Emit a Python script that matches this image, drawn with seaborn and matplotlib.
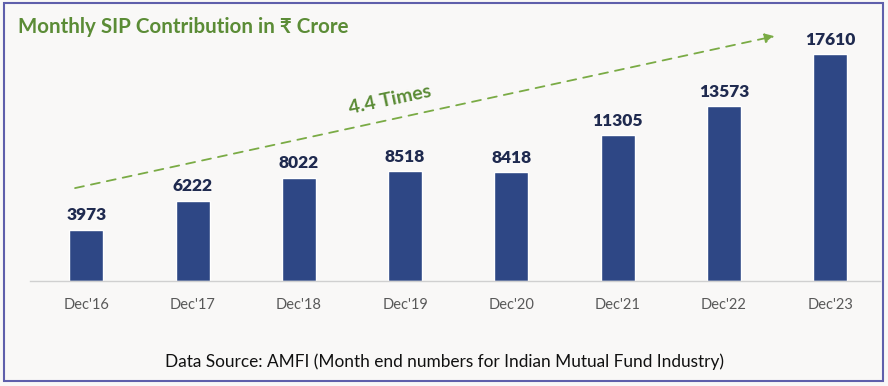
import pandas as pd
import seaborn as sns
import matplotlib.pyplot as plt
from matplotlib.patches import Rectangle

months = ["Dec'16", "Dec'17", "Dec'18", "Dec'19", "Dec'20", "Dec'21", "Dec'22", "Dec'23"]
sip_crore = [3973, 6222, 8022, 8518, 8418, 11305, 13573, 17610]

bar_color = "#2e4785"
label_color = "#1f2a4f"
green = "#5b8c36"
bg = "#f9f8f7"

df = pd.DataFrame({"month": months, "sip": sip_crore})

sns.set_theme(style="white")
plt.rcParams["font.family"] = ["Lato", "DejaVu Sans"]

fig = plt.figure(figsize=(8.88, 3.86), dpi=100, facecolor=bg)
ax = fig.add_axes([30 / 888, (386 - 281) / 386, 850 / 888, 261 / 386])
ax.set_facecolor(bg)

sns.barplot(data=df, x="month", y="sip", color=bar_color, width=0.32,
            saturation=1, ax=ax)

# value labels on top of bars
for i, v in enumerate(sip_crore):
    ax.text(i, v + 500, str(v), ha="center", va="bottom", fontsize=12.5,
            fontweight="heavy", color=label_color)

ax.set_xlim(-0.53, len(months) - 1 + 0.47)
ax.set_ylim(0, 17610 * 261 / 227)
ax.set_xlabel("")
ax.set_ylabel("")
ax.set_yticks([])
ax.tick_params(axis="x", length=0, pad=12, labelsize=10.5, labelcolor="#595959")
for s in ["top", "right", "left"]:
    ax.spines[s].set_visible(False)
ax.spines["bottom"].set_color("#d0d0d0")
ax.spines["bottom"].set_linewidth(1)

# growth arrow
ax.annotate("", xy=(0.876, 0.938), xytext=(0.053, 0.356), xycoords="axes fraction",
            arrowprops=dict(arrowstyle="-|>", color="#7aab45", lw=1.3,
                            linestyle=(0, (5, 4)), mutation_scale=14,
                            shrinkA=0, shrinkB=0))
ax.text(0.424, 0.695, "4.4 Times", transform=ax.transAxes, rotation=12,
        ha="center", va="center", fontsize=14, fontweight="bold", color=green)

fig.text(18 / 888, 1 - 27 / 386, "Monthly SIP Contribution in ₹ Crore",
         ha="left", va="center", fontsize=14.8, fontweight="bold", color=green)
fig.text(444 / 888, 1 - 362 / 386,
         "Data Source: AMFI (Month end numbers for Indian Mutual Fund Industry)",
         ha="center", va="center", fontsize=12.4, color="#111111")

# frame around the figure
fig.patches.append(Rectangle((4 / 888, 5 / 386), 879 / 888, 378 / 386,
                             transform=fig.transFigure, fill=False,
                             edgecolor="#5f5fab", lw=1.5))

fig.savefig("out.png", dpi=100, facecolor=bg)
